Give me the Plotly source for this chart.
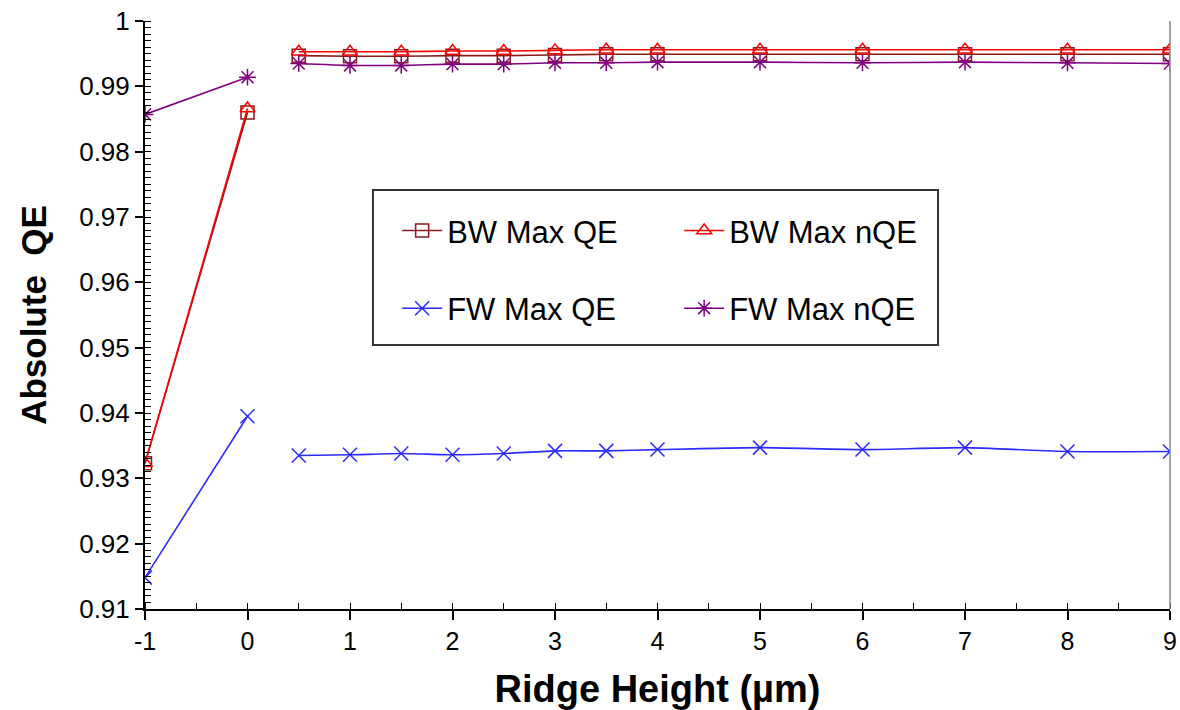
import plotly.graph_objects as go

# Ridge height (µm); None marks the break between the 0 and 0.5 points
ridge_height = [-1, 0, None, 0.5, 1, 1.5, 2, 2.5, 3, 3.5, 4, 5, 6, 7, 8, 9]

bw_max_qe = [0.9323, 0.9860, None, 0.9947, 0.9946, 0.9946, 0.9947, 0.9947, 0.9948,
             0.9949, 0.9949, 0.9949, 0.9949, 0.9949, 0.9949, 0.9949]
bw_max_nqe = [0.9323, 0.9866, None, 0.9953, 0.9953, 0.9953, 0.9954, 0.9954, 0.9955,
              0.9956, 0.9956, 0.9956, 0.9956, 0.9956, 0.9956, 0.9956]
fw_max_qe = [0.9148, 0.9395, None, 0.9335, 0.9336, 0.9338, 0.9336, 0.9338, 0.9342,
             0.9342, 0.9344, 0.9347, 0.9344, 0.9347, 0.9341, 0.9341]
fw_max_nqe = [0.9857, 0.9914, None, 0.9935, 0.9932, 0.9932, 0.9934, 0.9934, 0.9936,
              0.9936, 0.9937, 0.9937, 0.9936, 0.9937, 0.9936, 0.9935]

x_tick_vals = [-1, 0, 1, 2, 3, 4, 5, 6, 7, 8, 9]
x_tick_text = ["-1", "0", "1", "2", "3", "4", "5", "6", "7", "8", "9"]
y_tick_vals = [0.91, 0.92, 0.93, 0.94, 0.95, 0.96, 0.97, 0.98, 0.99, 1.0]

series = [
    ("BW Max QE", bw_max_qe, "#8B1A1A", "square-open", 13, "legend"),
    ("BW Max nQE", bw_max_nqe, "#FF0000", "triangle-up-open", 13, "legend"),
    ("FW Max QE", fw_max_qe, "#2B2BFF", "x-thin-open", 14, "legend2"),
    ("FW Max nQE", fw_max_nqe, "#800080", "asterisk-open", 14, "legend2"),
]

fig = go.Figure()
for name, vals, color, symbol, size, leg in series:
    fig.add_trace(go.Scatter(
        x=ridge_height, y=vals, name=name, mode="lines+markers",
        line=dict(color=color, width=1.6, shape="spline", smoothing=0.5),
        marker=dict(symbol=symbol, size=size, color=color,
                    line=dict(color=color, width=1.5)),
        connectgaps=False, legend=leg,
    ))

FONT = "Arial, Liberation Sans, sans-serif"
legend_common = dict(
    orientation="h", xanchor="left", yanchor="middle",
    font=dict(family=FONT, size=31, color="black"),
    bgcolor="rgba(0,0,0,0)", borderwidth=0,
    entrywidth=227, entrywidthmode="pixels", itemwidth=40,
)

fig.update_layout(
    width=1180, height=710,
    margin=dict(l=145, r=10, t=21, b=101),
    paper_bgcolor="white", plot_bgcolor="white",
    font=dict(family=FONT, color="black"),
    showlegend=True,
    legend=dict(x=0.246, y=0.643, **legend_common),
    legend2=dict(x=0.246, y=0.511, **legend_common),
    xaxis=dict(
        range=[-1, 9], tickvals=x_tick_vals, ticktext=x_tick_text,
        automargin=False,
        showgrid=False, zeroline=False,
        showline=True, linecolor="black", linewidth=2,
        ticks="outside", ticklen=9, tickwidth=1.5, tickcolor="black",
        minor=dict(dtick=0.5, ticks="inside", ticklen=6, tickcolor="black", tickwidth=1),
        tickfont=dict(family=FONT, size=25, color="black"),
        title=dict(text="<b>Ridge Height (µm)</b>", standoff=22,
                   font=dict(family=FONT, size=38, color="black")),
    ),
    yaxis=dict(
        range=[0.91, 1.0], tickvals=y_tick_vals,
        automargin=False,
        showgrid=False, zeroline=False,
        showline=True, linecolor="black", linewidth=2,
        ticks="outside", ticklen=8, tickwidth=1.5, tickcolor="black",
        minor=dict(dtick=0.001, ticks="inside", ticklen=6, tickcolor="black", tickwidth=1),
        tickfont=dict(family=FONT, size=26, color="black"),
        title=dict(text="<b>Absolute&nbsp; QE</b>", standoff=22,
                   font=dict(family=FONT, size=35, color="black")),
    ),
    shapes=[
        dict(type="line", xref="paper", yref="paper", x0=1, x1=1, y0=0, y1=1,
             line=dict(color="#888888", width=1.5)),
        dict(type="rect", xref="paper", yref="paper",
             x0=0.2224, x1=0.7737, y0=0.449, y1=0.7126,
             line=dict(color="#333333", width=2), fillcolor="rgba(0,0,0,0)"),
    ],
)

fig.write_html("out.html")
